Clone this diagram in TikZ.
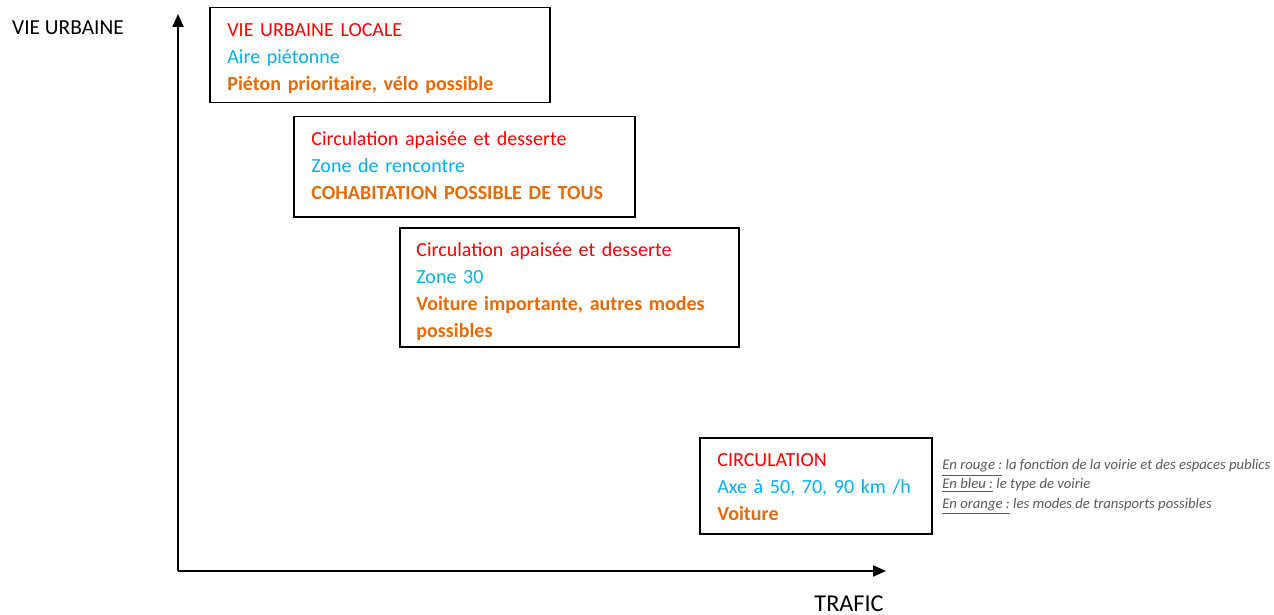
\documentclass[tikz,border=0pt]{standalone}
\usepackage{fontspec}
\setmainfont{Carlito}
\usetikzlibrary{arrows.meta}
\definecolor{rouge}{HTML}{FF0000}
\definecolor{bleu}{HTML}{00B0F0}
\definecolor{orangef}{HTML}{E36C09}
\definecolor{gris}{HTML}{595959}
\begin{document}
\begin{tikzpicture}[x=0.5pt,y=-0.5pt,
  boite/.style={draw,line width=0.75pt,anchor=north west,inner sep=0pt},
  texte/.style={anchor=base west,align=left,inner sep=0pt,font=\fontsize{10}{13.5}\selectfont},
  axe/.style={line width=1pt,-{Triangle[length=6.5pt,width=5.5pt]}}]
\useasboundingbox (0,0) rectangle (1274,615);
% axes
\coordinate (o) at (178,571);
\coordinate (haut) at (178,14);
\coordinate (droite) at (886,571);
\draw[axe] (o) -- (haut);
\draw[axe] (o) -- (droite);
\node[font=\fontsize{10.7}{12}\selectfont] (vie) at (68,28) {VIE URBAINE};
\node[font=\fontsize{12.1}{14}\selectfont] (trafic) at (849,604) {TRAFIC};
% les boites, de la vie urbaine vers le trafic
\node[boite,minimum width=170pt,minimum height=47.5pt] (locale) at (209,7) {};
\node[texte,text width=152pt] (locale-t) at ([xshift=9pt,yshift=-15pt]locale.north west)
  {\color{rouge}VIE URBAINE LOCALE\\
   \color{bleu}Aire piétonne\\
   \color{orangef}\bfseries Piéton prioritaire, vélo possible};
\node[boite,minimum width=170.5pt,minimum height=50pt] (rencontre) at (293,116) {};
\node[texte,text width=152.5pt] (rencontre-t) at ([xshift=9pt,yshift=-14.8pt]rencontre.north west)
  {\color{rouge}Circulation apaisée et desserte\\
   \color{bleu}Zone de rencontre\\
   \color{orangef}\bfseries COHABITATION POSSIBLE DE TOUS};
\node[boite,minimum width=169.5pt,minimum height=59.5pt] (zone) at (399,227) {};
\node[texte,text width=151.5pt] (zone-t) at ([xshift=8.5pt,yshift=-14.5pt]zone.north west)
  {\color{rouge}Circulation apaisée et desserte\\
   \color{bleu}Zone 30\\
   \color{orangef}\bfseries Voiture importante, autres modes\\
   \color{orangef}\bfseries possibles};
\node[boite,minimum width=116pt,minimum height=48pt] (circulation) at (699,437) {};
\node[texte,text width=98pt] (circulation-t) at ([xshift=9pt,yshift=-14.5pt]circulation.north west)
  {\color{rouge}CIRCULATION\\
   \color{bleu}Axe à 50, 70, 90 km /h\\
   \color{orangef}\bfseries Voiture};
% legende
\node[anchor=north west,align=left,inner sep=0pt,text=gris,
  font=\fontsize{7.35}{9.6}\selectfont\itshape] (legende) at (942,459)
  {\underline{En rouge :} la fonction de la voirie et des espaces publics\\
   \underline{En bleu :} le type de voirie\\
   \underline{En orange :} les modes de transports possibles};
\end{tikzpicture}
\end{document}
